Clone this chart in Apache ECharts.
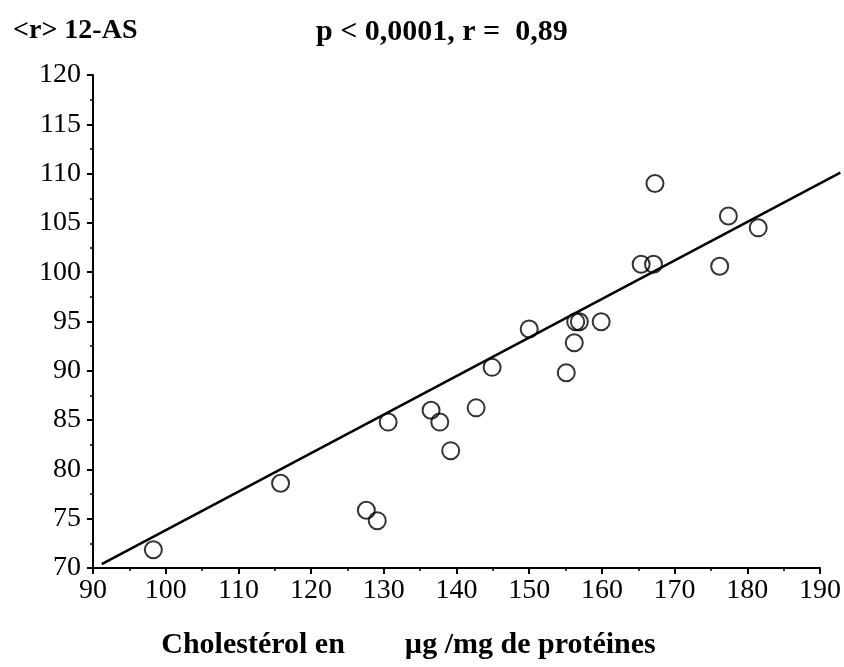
<!DOCTYPE html>
<html>
<head>
<meta charset="utf-8">
<script src="https://cdn.jsdelivr.net/npm/echarts@6/dist/echarts.min.js"></script>
<style>
html,body{margin:0;padding:0;background:#fff;}
#chart{width:844px;height:667px;}
</style>
</head>
<body>
<div id="chart"></div>
<script>
// Data
var cholesterol = [98.3, 115.8, 127.6, 129.1, 130.6, 136.5, 137.7, 139.2, 142.7, 144.9,
                   150.0, 155.1, 156.2, 156.4, 156.9, 159.9, 165.4, 167.1, 167.3, 176.2,
                   177.4, 181.5];
var rValue = [71.85, 78.6, 75.85, 74.8, 84.8, 86.0, 84.8, 81.9, 86.24, 90.35,
              94.24, 89.8, 92.85, 94.98, 94.98, 94.98, 100.8, 100.8, 109.0, 100.6,
              105.7, 104.5];
var fitX = [91.2, 192.8];
var fitY = [70.4, 110.1];
var xTicks = [90, 100, 110, 120, 130, 140, 150, 160, 170, 180, 190];
var yTicks = [70, 75, 80, 85, 90, 95, 100, 105, 110, 115, 120];

var titleLeft = '<r> 12-AS';
var titleRight = 'p < 0,0001, r =  0,89';
var xName = 'Cholestérol en        µg /mg de protéines';

var points = cholesterol.map(function (x, i) { return [x, rValue[i]]; });
var fitLine = fitX.map(function (x, i) { return [x, fitY[i]]; });

var serif = 'Liberation Serif';
var xMin = xTicks[0], xMax = xTicks[xTicks.length - 1];
var yMin = yTicks[0], yMax = yTicks[yTicks.length - 1];
var plotLeft = 93, plotRight = 24;
// second (hidden) x scale: same px-per-unit, extended so the fit line can run past 190
var pxPerUnit = (844 - plotLeft - plotRight) / (xMax - xMin);
var extRight = 844 - plotLeft - (fitX[1] - xMin) * pxPerUnit;

var chart = echarts.init(document.getElementById('chart'));
chart.setOption({
  animation: false,
  backgroundColor: '#ffffff',
  title: [
    { text: titleLeft, left: 8, top: 12,
      textStyle: { fontFamily: serif, fontWeight: 'bold', fontSize: 28, color: '#000' } },
    { text: titleRight, left: 311, top: 12,
      textStyle: { fontFamily: serif, fontWeight: 'bold', fontSize: 30, color: '#000' } }
  ],
  grid: [
    { left: plotLeft, right: plotRight, top: 75, bottom: 99, containLabel: false },
    { left: plotLeft, right: extRight, top: 75, bottom: 99, containLabel: false }
  ],
  xAxis: [{
    type: 'value', min: xMin, max: xMax, interval: 10, gridIndex: 0,
    name: xName, nameLocation: 'middle', nameGap: 62,
    nameTextStyle: { fontFamily: serif, fontWeight: 'bold', fontSize: 30, color: '#000',
                     padding: [0, 96, 0, 0] },
    axisLine: { show: true, onZero: false, lineStyle: { color: '#000', width: 2 } },
    axisTick: { show: true, inside: false, length: 6, lineStyle: { color: '#000', width: 2 } },
    minorTick: { show: true, splitNumber: 2, length: 3, lineStyle: { color: '#000', width: 1.5 } },
    splitLine: { show: false },
    axisLabel: { fontFamily: serif, fontSize: 28, color: '#000', margin: 9 }
  }, {
    type: 'value', min: xMin, max: fitX[1], gridIndex: 1, show: false
  }],
  yAxis: [{
    type: 'value', min: yMin, max: yMax, interval: 5, gridIndex: 0,
    axisLine: { show: true, onZero: false, lineStyle: { color: '#000', width: 2 } },
    axisTick: { show: true, inside: false, length: 6, lineStyle: { color: '#000', width: 2 } },
    minorTick: { show: true, splitNumber: 2, length: 3, lineStyle: { color: '#000', width: 1.5 } },
    splitLine: { show: false },
    axisLabel: { fontFamily: serif, fontSize: 28, color: '#000', margin: 12,
                 padding: [0, 0, 10, 0] }
  }, {
    type: 'value', min: yMin, max: yMax, gridIndex: 1, show: false
  }],
  series: [
    {
      type: 'line', data: fitLine, xAxisIndex: 1, yAxisIndex: 1,
      showSymbol: false, symbol: 'none', clip: false,
      lineStyle: { color: '#000', width: 2.5 }, z: 2
    },
    {
      type: 'scatter', data: points, xAxisIndex: 0, yAxisIndex: 0,
      symbol: 'circle', symbolSize: 17,
      itemStyle: { color: 'rgba(0,0,0,0)', borderColor: '#000', borderWidth: 2 }, z: 3
    }
  ]
});
</script>
</body>
</html>
